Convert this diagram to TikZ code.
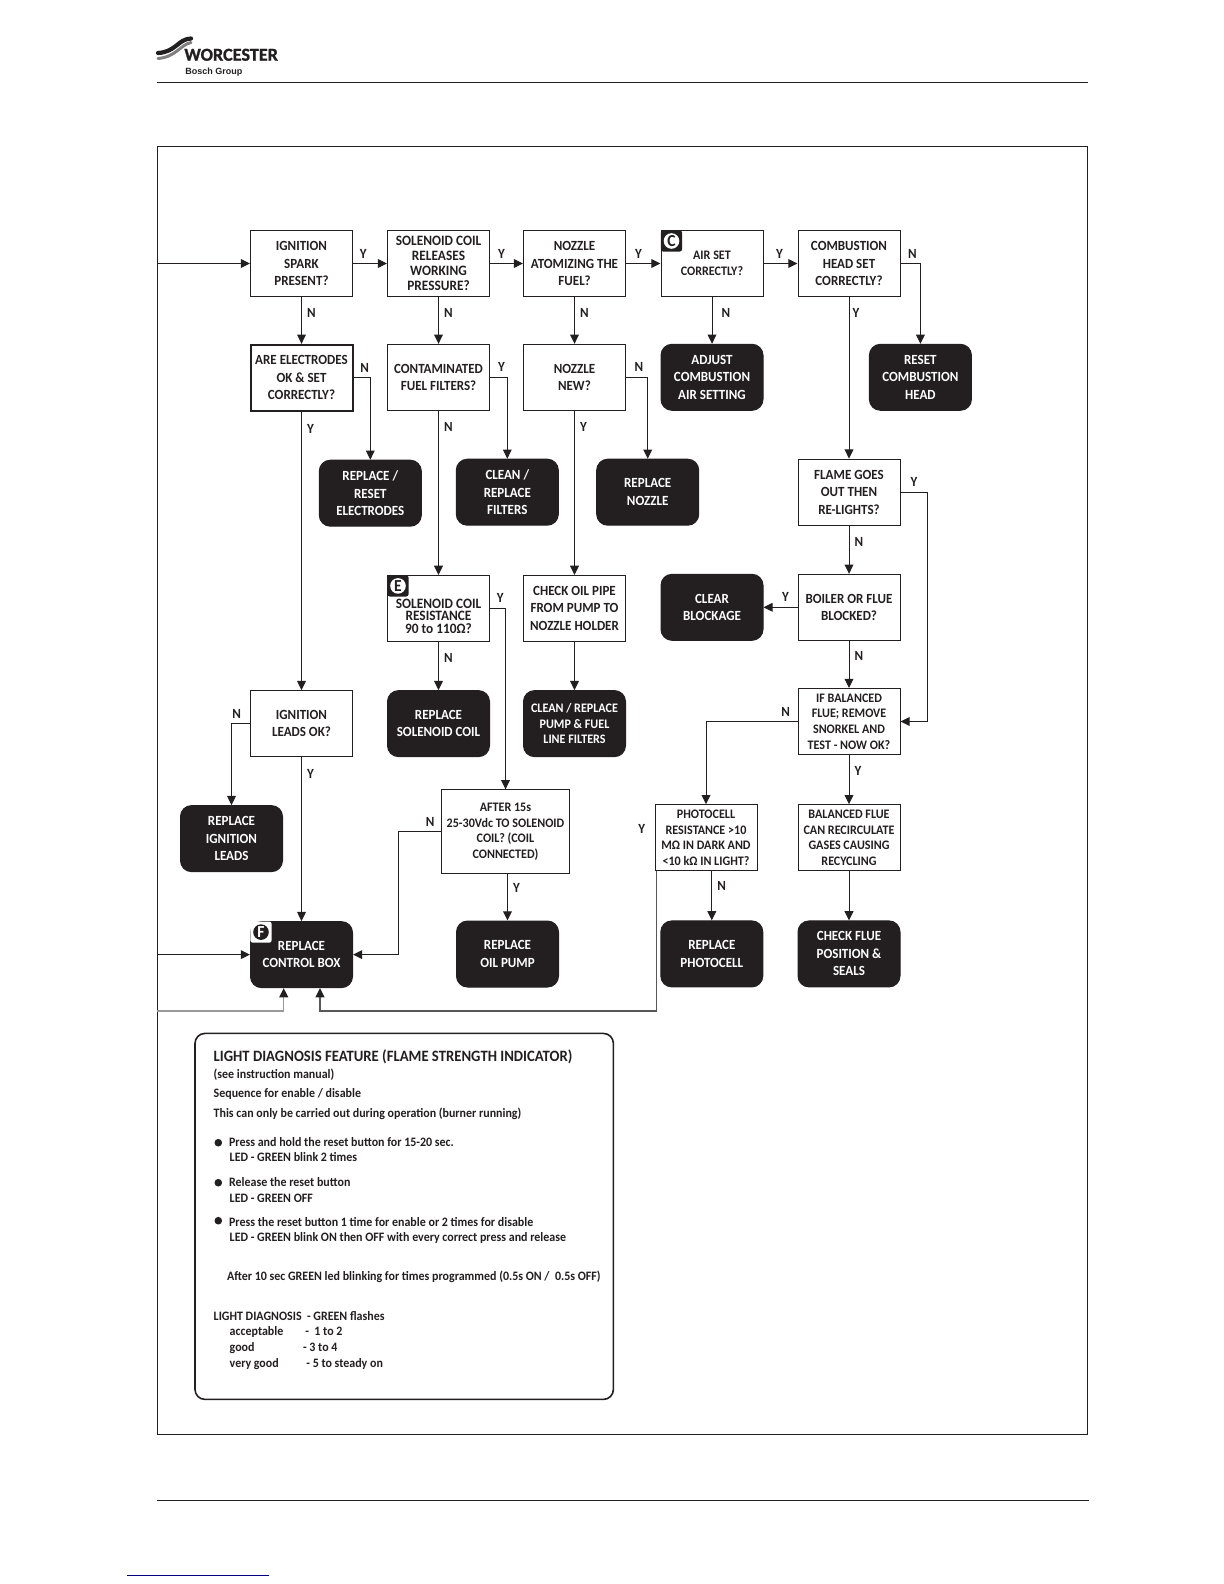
\documentclass[tikz,border=0pt]{standalone}
\usepackage{xcolor}
\usepackage{fontspec}
\setmainfont{Carlito}[FakeStretch=0.93]
\newfontfamily\brandfont{Carlito}[FakeBold=1.2]
\newfontfamily\logofont{Liberation Sans}
\usepackage{tikz}
\usetikzlibrary{arrows.meta,positioning,calc}
\definecolor{ink}{HTML}{231F20}

\begin{document}
\begin{tikzpicture}[
  x=0.5pt, y=-0.5pt,
  qbox/.style={rectangle, draw=ink, line width=0.5pt, minimum width=51pt, minimum height=33pt, inner sep=0pt, align=center, text=ink, font=\fontsize{7}{8.75}\selectfont\bfseries},
  darkbox/.style={qbox, fill=ink, text=white, rounded corners=5.5pt},
  tightbox/.style={font=\fontsize{7.17}{7.4}\selectfont\bfseries},
  finebox/.style={font=\fontsize{6.5}{7.85}\selectfont\bfseries},
  arrow/.style={-{Stealth[length=4.6pt,width=4.4pt,inset=0pt,color=ink]}, line width=0.5pt, draw=ink},
  lab/.style={inner sep=2.5pt, text=ink, font=\fontsize{7}{8}\selectfont\bfseries},
  tagbox/.style={fill=ink, rounded corners=1.2pt, minimum size=10.6pt, inner sep=0pt, anchor=north west},
  tagdot/.style={circle, fill=white, text=ink, minimum size=7.8pt, inner sep=0pt, font=\fontsize{8.4}{8}\selectfont\bfseries},
  infoline/.style={anchor=base west, inner sep=0pt, text=ink, font=\fontsize{6.43}{7}\selectfont\bfseries},
  infodot/.style={circle, fill=ink, minimum size=3.8pt, inner sep=0pt},
]
\useasboundingbox (0,0) rectangle (1224,1584);

% page furniture
\coordinate (headL) at (157,83);
\coordinate (headR) at (1088,83);
\coordinate (footL) at (157,1500.5);
\coordinate (footR) at (1089,1500.5);
\coordinate (linkL) at (127,1575.5);
\coordinate (linkR) at (269,1575.5);
\draw[line width=0.5pt, ink] (headL) -- (headR);
\draw[line width=0.5pt, ink] (footL) -- (footR);
\draw[line width=0.5pt, blue!50!black] (linkL) -- (linkR);
\node[draw=ink, line width=0.5pt, minimum width=465pt, minimum height=644pt, inner sep=0pt] (frame) at (622.5,790) {};

% logo
\draw[ink, line width=2.1pt, line cap=round] (158,53) .. controls (176,52) and (178,39) .. (191,38.5);
\draw[gray, line width=1.5pt, line cap=round] (158,58.5) .. controls (176,57) and (180,45) .. (191,42.5);
\node[anchor=base west, inner sep=0pt, text=ink, font=\brandfont\fontsize{9.1}{9}\selectfont\bfseries] (logoname) at (184,60.7) {WORCESTER};
\node[anchor=base west, inner sep=0pt, text=ink, font=\logofont\fontsize{4.5}{5}\selectfont\bfseries] (logogroup) at (185,74.3) {Bosch Group};

% top row
\node[qbox] (ignition) at (301.5,263.5) {IGNITION\\SPARK\\PRESENT?};
\node[qbox, tightbox, right=17pt of ignition] (solenoid) {SOLENOID COIL\\RELEASES\\WORKING\\PRESSURE?};
\node[qbox, right=16.5pt of solenoid] (nozzle) {NOZZLE\\ATOMIZING THE\\FUEL?};
\node[qbox, finebox, right=17.25pt of nozzle] (airset) {AIR SET\\CORRECTLY?};
\node[qbox, right=17pt of airset] (combustion) {COMBUSTION\\HEAD SET\\CORRECTLY?};

% second row
\node[qbox, line width=1pt, below=23.4pt of ignition] (electrodes) {ARE ELECTRODES\\OK \& SET\\CORRECTLY?};
\node[qbox, below=23.4pt of solenoid] (contaminated) {CONTAMINATED\\FUEL FILTERS?};
\node[qbox, below=23.4pt of nozzle] (nozzlenew) {NOZZLE\\NEW?};
\node[darkbox, below=23.4pt of airset] (adjust) {ADJUST\\COMBUSTION\\AIR SETTING};
\node[darkbox, below=23.4pt of combustion, xshift=35.7pt] (resethead) {RESET\\COMBUSTION\\HEAD};

% third row
\node[darkbox, below=23.95pt of electrodes, xshift=34.4pt] (replelectrodes) {REPLACE /\\RESET\\ELECTRODES};
\node[darkbox, below=23.95pt of contaminated, xshift=34.4pt] (cleanfilters) {CLEAN /\\REPLACE\\FILTERS};
\node[darkbox, below=23.95pt of nozzlenew, xshift=36.6pt] (replnozzle) {REPLACE\\NOZZLE};
\node[qbox, below=80.8pt of combustion] (flame) {FLAME GOES\\OUT THEN\\RE-LIGHTS?};

% fourth row
\node[qbox, font=\fontsize{7.17}{6.4}\selectfont\bfseries, below=82.05pt of contaminated] (coilres) {\rule{0pt}{12.5pt}SOLENOID COIL\\RESISTANCE\\90 to 110Ω?};
\node[qbox, below=82.05pt of nozzlenew] (oilpipe) {CHECK OIL PIPE\\FROM PUMP TO\\NOZZLE HOLDER};
\node[qbox, below=24.1pt of flame] (blocked) {BOILER OR FLUE\\BLOCKED?};
\node[darkbox, left=17pt of blocked] (clearblock) {CLEAR\\BLOCKAGE};

% fifth row
\node[qbox, below=139.15pt of electrodes] (leads) {IGNITION\\LEADS OK?};
\node[darkbox, below=24.1pt of coilres] (replcoil) {REPLACE\\SOLENOID COIL};
\node[darkbox, finebox, below=24.1pt of oilpipe] (cleanpump) {CLEAN / REPLACE\\PUMP \& FUEL\\LINE FILTERS};
\node[qbox, finebox, below=23.6pt of blocked] (balanced) {IF BALANCED\\FLUE; REMOVE\\SNORKEL AND\\TEST - NOW OK?};

% sixth row
\node[darkbox, below=24pt of leads, xshift=-35pt] (replleads) {REPLACE\\IGNITION\\LEADS};
\node[qbox, finebox, minimum width=64pt, minimum height=42pt, below=16.1pt of replcoil, xshift=33.5pt] (coilvolts) {AFTER 15s\\25-30Vdc TO SOLENOID\\COIL? (COIL\\CONNECTED)};
\node[qbox, finebox, below=24.6pt of balanced, xshift=-71.5pt] (photocell) {PHOTOCELL\\RESISTANCE >10\\MΩ IN DARK AND\\<10 kΩ IN LIGHT?};
\node[qbox, finebox, below=24.6pt of balanced] (recirc) {BALANCED FLUE\\CAN RECIRCULATE\\GASES CAUSING\\RECYCLING};

% bottom row
\node[darkbox, below=82pt of leads] (control) {REPLACE\\CONTROL BOX};
\node[darkbox, below=23.1pt of coilvolts, xshift=1pt] (oilpump) {REPLACE\\OIL PUMP};
\node[darkbox, below=24.6pt of photocell, xshift=2.9pt] (replphoto) {REPLACE\\PHOTOCELL};
\node[darkbox, below=24.6pt of recirc] (checkflue) {CHECK FLUE\\POSITION \&\\SEALS};

% section tags
\node[tagbox] (tagC) at (airset.north west) {};
\node[tagdot] (dotC) at (tagC) {C};
\node[tagbox] (tagE) at (coilres.north west) {};
\node[tagdot] (dotE) at (tagE) {E};
\node[tagbox, fill=white] (tagF) at (control.north west) {};
\node[tagdot, fill=ink, text=white] (dotF) at (tagF) {F};

% helper points
\coordinate (flamebus) at ([xshift=13.5pt]balanced.east);
\coordinate (ctrlbus) at ([xshift=22.5pt]control.east);
\coordinate (photoend) at ([xshift=9.25pt]control.south);
\coordinate (photostart) at ([xshift=1pt]photocell.south west);
\coordinate (photocorner) at ($(photostart)+(0,140)$);
\coordinate (returnend) at ([xshift=-8.9pt]control.south);
\coordinate (returncorner) at ($(returnend)+(0,23)$);

% incoming lines
\draw[arrow] (frame.west |- ignition) -- (ignition);
\draw[arrow] (frame.west |- control) -- (control);
\draw[arrow, draw=gray!80, line width=0.7pt] (frame.west |- returncorner) -- (returncorner) -- (returnend);

% across
\draw[arrow] (ignition) -- node[lab, above, pos=.3] {Y} (solenoid);
\draw[arrow] (solenoid) -- node[lab, above, pos=.35] {Y} (nozzle);
\draw[arrow] (nozzle) -- node[lab, above, pos=.36] {Y} (airset);
\draw[arrow] (airset) -- node[lab, above, pos=.47] {Y} (combustion);
\draw[arrow] (combustion.east) -| node[lab, above, pos=.3] {N} (resethead.north);
\draw[arrow] (electrodes.east) -| node[lab, above, pos=.33] {N} (replelectrodes.north);
\draw[arrow] (contaminated.east) -| node[lab, above, pos=.33] {Y} (cleanfilters.north);
\draw[arrow] (nozzlenew.east) -| node[lab, above, pos=.3] {N} (replnozzle.north);
\draw[arrow] (blocked) -- node[lab, above, pos=.35] {Y} (clearblock);
\draw[arrow] (coilres.east) -| node[lab, above, pos=.33] {Y} (coilvolts.north);
\draw[arrow] (leads.west) -| node[lab, above, pos=.36] {N} (replleads.north);
\draw[arrow] (balanced.west) -| node[lab, above, pos=.065] {N} (photocell.north);
\draw[arrow] (flame.east) -- node[lab, above] {Y} (flame.east -| flamebus) -- (flamebus) -- (balanced.east);
\draw[arrow] (coilvolts.west) -- node[lab, above, pos=.25] {N} (coilvolts.west -| ctrlbus) -- (ctrlbus) -- (control.east);

% down
\draw[arrow] (ignition) -- node[lab, right, pos=.35] {N} (electrodes);
\draw[arrow] (solenoid) -- node[lab, right, pos=.35] {N} (contaminated);
\draw[arrow] (nozzle) -- node[lab, right, pos=.35] {N} (nozzlenew);
\draw[arrow] (airset) -- node[lab, right, pos=.35, xshift=2pt] {N} (adjust);
\draw[arrow] (combustion) -- node[lab, right, pos=.1, xshift=-1pt] {Y} (flame);
\draw[arrow] (electrodes) -- node[lab, right, pos=.06] {Y} (leads);
\draw[arrow] (contaminated) -- node[lab, right, pos=.1] {N} (coilres);
\draw[arrow] (nozzlenew) -- node[lab, right, pos=.1] {Y} (oilpipe);
\draw[arrow] (flame) -- node[lab, right, pos=.33] {N} (blocked);
\draw[arrow] (blocked) -- node[lab, right, pos=.33] {N} (balanced);
\draw[arrow] (balanced) -- node[lab, right, pos=.33] {Y} (recirc);
\draw[arrow] (recirc) -- (checkflue);
\draw[arrow] (coilres) -- node[lab, right, pos=.33] {N} (replcoil);
\draw[arrow] (oilpipe) -- (cleanpump);
\draw[arrow] (leads) -- node[lab, right, pos=.1] {Y} (control);
\draw[arrow] (coilvolts.south -| oilpump.north) -- node[lab, right, pos=.3] {Y} (oilpump.north);
\draw[arrow] (photocell.south -| replphoto.north) -- node[lab, right, pos=.3] {N} (replphoto.north);
\draw[arrow, draw=ink!75, line width=0.8pt] (photostart) -- (photocorner) -- (photocorner -| photoend) -- (photoend);
\node[lab, left=2pt of photocell, yshift=4.5pt] (photoY) {Y};

% info panel
\node[draw=ink, line width=0.8pt, rounded corners=5pt, minimum width=209.2pt, minimum height=183pt, inner sep=0pt] (info) at (404.2,1216.4) {};
\node[infoline, font=\fontsize{7.9}{9}\selectfont\bfseries] (infohead) at (213.3,1061.7) {LIGHT DIAGNOSIS FEATURE (FLAME STRENGTH INDICATOR)};
\node[infoline] (infosee) at (213.3,1078.3) {(see instruction manual)};
\node[infoline] (infoseq) at (213.3,1097.3) {Sequence for enable / disable};
\node[infoline] (infoonly) at (213.3,1117.3) {This can only be carried out during operation (burner running)};
\node[infodot] (dotone) at (218.3,1142.7) {};
\node[infoline] (presshold) at (228.7,1146) {Press and hold the reset button for 15-20 sec.};
\node[infoline] (ledtwo) at (229.3,1161.7) {LED - GREEN blink 2 times};
\node[infodot] (dottwo) at (218.3,1182.7) {};
\node[infoline] (release) at (228.7,1186.3) {Release the reset button};
\node[infoline] (ledoff) at (229.3,1202.3) {LED - GREEN OFF};
\node[infodot] (dotthree) at (218.3,1220.7) {};
\node[infoline] (pressone) at (228.7,1226) {Press the reset button 1 time for enable or 2 times for disable};
\node[infoline] (ledon) at (229.3,1241.7) {LED - GREEN blink ON then OFF with every correct press and release};
\node[infoline] (afterten) at (226.7,1280.7) {After 10 sec GREEN led blinking for times programmed (0.5s ON /\ \ 0.5s OFF)};
\node[infoline] (lightdiag) at (213.3,1320) {LIGHT DIAGNOSIS\ \ - GREEN flashes};
\node[infoline] (accept) at (229.3,1335.7) {acceptable};
\node[infoline] (acceptval) at (305,1335.7) {-\ \ 1 to 2};
\node[infoline] (good) at (229.3,1351.7) {good};
\node[infoline] (goodval) at (302.7,1351.7) {- 3 to 4};
\node[infoline] (vgood) at (229.3,1367.3) {very good};
\node[infoline] (vgoodval) at (306,1367.3) {- 5 to steady on};

\end{tikzpicture}
\end{document}
